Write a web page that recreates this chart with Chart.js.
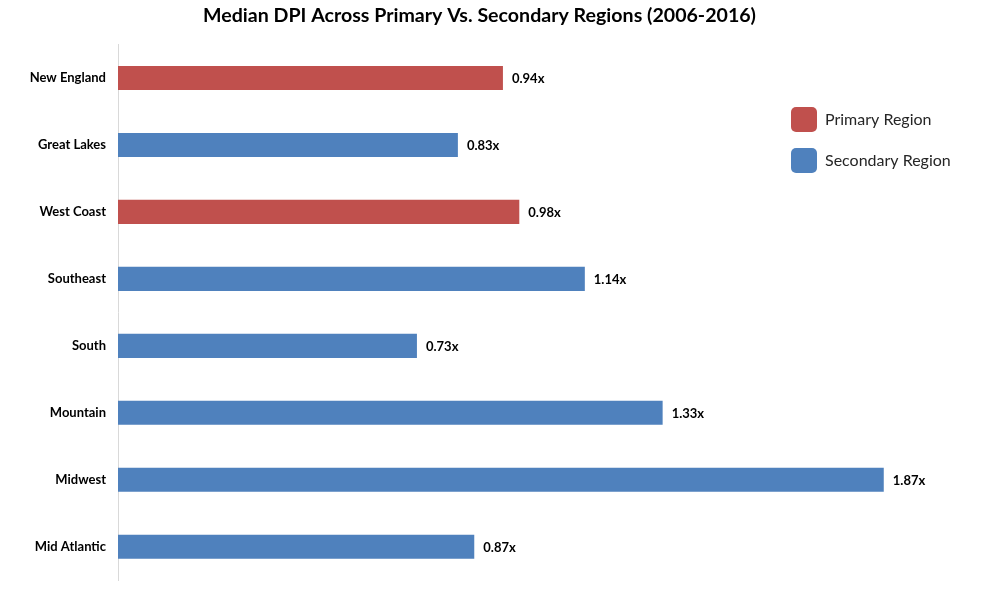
<!DOCTYPE html>
<html>
<head>
<meta charset="utf-8">
<script src="https://cdn.jsdelivr.net/npm/chart.js@4"></script>
<style>
  html, body { margin: 0; padding: 0; background: #fff; }
  #wrap { width: 991px; height: 600px; position: relative; }
</style>
</head>
<body>
<div id="wrap"><canvas id="chart"></canvas></div>
<script>
// Dados do gráfico
const regioes = ['New England', 'Great Lakes', 'West Coast', 'Southeast', 'South', 'Mountain', 'Midwest', 'Mid Atlantic'];
const dpi = [0.94, 0.83, 0.98, 1.14, 0.73, 1.33, 1.87, 0.87];
const tipoRegiao = ['primary', 'secondary', 'primary', 'secondary', 'secondary', 'secondary', 'secondary', 'secondary'];
const legendaNomes = ['Primary Region', 'Secondary Region'];

const cores = { primary: '#C0504D', secondary: '#4F81BD' };
const fonte = 'Lato, "Open Sans", sans-serif';

// Rótulos de valor ao fim de cada barra
const rotulos = {
  id: 'rotulos',
  afterDatasetsDraw(chart) {
    const ctx = chart.ctx;
    const meta = chart.getDatasetMeta(0);
    ctx.save();
    ctx.font = 'bold 13px ' + fonte;
    ctx.fillStyle = '#000';
    ctx.textAlign = 'left';
    ctx.textBaseline = 'middle';
    meta.data.forEach((bar, i) => {
      ctx.fillText(dpi[i].toFixed(2) + 'x', bar.x + 9, bar.y + 1);
    });
    ctx.restore();
  }
};

// Legenda desenhada dentro da área do gráfico
const legenda = {
  id: 'legenda',
  afterDraw(chart) {
    const ctx = chart.ctx;
    const chaves = ['primary', 'secondary'];
    ctx.save();
    ctx.font = '16px ' + fonte;
    ctx.textBaseline = 'middle';
    chaves.forEach((k, i) => {
      const y = 107 + i * 41;
      ctx.fillStyle = cores[k];
      ctx.beginPath();
      ctx.roundRect(791, y, 26, 25, 5);
      ctx.fill();
      ctx.fillStyle = '#262626';
      ctx.fillText(legendaNomes[i], 825, y + 13);
    });
    ctx.restore();
  }
};

new Chart(document.getElementById('chart'), {
  type: 'bar',
  data: {
    labels: regioes,
    datasets: [{
      data: dpi,
      backgroundColor: tipoRegiao.map(t => cores[t]),
      categoryPercentage: 1,
      barPercentage: 0.36
    }]
  },
  options: {
    indexAxis: 'y',
    responsive: true,
    maintainAspectRatio: false,
    animation: false,
    layout: { padding: { left: 22, right: 54, top: 0, bottom: 18 } },
    plugins: {
      legend: { display: false },
      tooltip: { enabled: false },
      title: {
        display: true,
        text: 'Median DPI Across Primary Vs. Secondary Regions (2006-2016)',
        color: '#000',
        font: { family: fonte, size: 19.6, weight: 'bold' },
        padding: { top: 4, bottom: 17 }
      }
    },
    scales: {
      x: {
        display: false,
        min: 0,
        max: 2
      },
      y: {
        afterFit(s) { s.width = 96; },
        grid: { display: false, drawTicks: false },
        border: { display: true, color: '#d9d9d9', width: 1 },
        ticks: {
          color: '#000',
          padding: 12,
          font: { family: fonte, size: 13, weight: 'bold' }
        }
      }
    }
  },
  plugins: [rotulos, legenda]
});
</script>
</body>
</html>
